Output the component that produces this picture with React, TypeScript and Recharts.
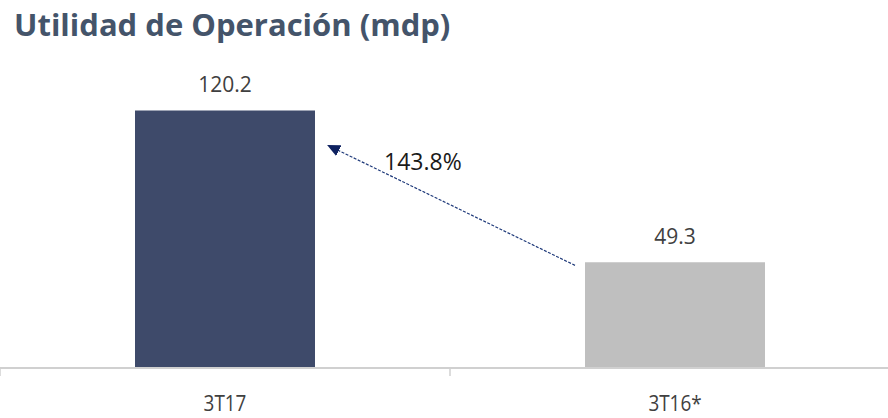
import React from "react";
import { BarChart, Bar, XAxis, YAxis, Cell, LabelList } from "recharts";

const categories = ["3T17", "3T16*"];
const values = [120.2, 49.3];
const barColors = ["#3E4A6A", "#BFBFBF"];
const changeLabel = "143.8%";
const title = "Utilidad de Operación (mdp)";

const data = categories.map((c, i) => ({ name: c, value: values[i] }));

const FONT = "'Open Sans', 'DejaVu Sans', sans-serif";

const Tick = (props: any) => {
  const { x, y, payload } = props;
  const off = payload && typeof payload.offset === "number" ? payload.offset : 225;
  return (
    <g>
      <line x1={x - off} x2={x - off} y1={y} y2={y + 8} stroke="#D0D0D0" strokeWidth={1.5} />
      <text
        x={x}
        y={y + 35}
        textAnchor="middle"
        dominantBaseline="central"
        fill="#404040"
        fontSize={21}
        fontFamily={FONT}
        style={{ transform: "scaleX(0.9)", transformBox: "fill-box", transformOrigin: "center" }}
      >
        {payload.value}
      </text>
    </g>
  );
};

const ArrowLabel = (props: any) => {
  const { x, y, width, height, index } = props;
  if (index !== 1) return null;
  const base = y + height;
  const targetTop = base - height * (values[0] / values[1]);
  const targetRight = x - 1.5 * width;
  const sx = x - 10;
  const sy = y + 3;
  const ex = targetRight + 13;
  const ey = targetTop + 35;
  return (
    <g>
      <defs>
        <marker id="arrowHead" markerWidth="13" markerHeight="12" refX="12" refY="6" orient="auto" markerUnits="userSpaceOnUse">
          <path d="M0,0 L13,6 L0,12 z" fill="#0E2160" />
        </marker>
      </defs>
      <line x1={sx} y1={sy} x2={ex} y2={ey} stroke="#1F3A7A" strokeWidth={1.2} strokeDasharray="3 1.5" markerEnd="url(#arrowHead)" />
      <text x={ex + 56} y={ey + 16} dominantBaseline="central" fill="#1A1A1A" fontSize={23} fontFamily={FONT}>
        {changeLabel}
      </text>
    </g>
  );
};

export default function App() {
  return (
    <div style={{ position: "absolute", left: 0, top: 0, width: 888, height: 418, overflow: "hidden", background: "#fff" }}>
      <div
        style={{
          position: "absolute",
          left: 14,
          top: 3,
          fontFamily: FONT,
          fontWeight: 700,
          fontSize: 31,
          color: "#44546A",
          whiteSpace: "nowrap",
          lineHeight: "42px",
        }}
      >
        {title}
      </div>
      <div style={{ position: "absolute", left: 0, top: 0 }}>
        <BarChart
          width={900}
          height={418}
          data={data}
          margin={{ top: 68, right: 0, bottom: 0, left: 0 }}
          barCategoryGap="30%"
        >
          <XAxis
            dataKey="name"
            height={50}
            tickLine={false}
            tickSize={0}
            tickMargin={0}
            axisLine={{ stroke: "#D0D0D0", strokeWidth: 2 }}
            tick={<Tick />}
            interval={0}
          />
          <YAxis hide domain={[0, 140]} />
          <Bar dataKey="value" isAnimationActive={false}>
            {data.map((d, i) => (
              <Cell key={d.name} fill={barColors[i]} />
            ))}
            <LabelList dataKey="value" position="top" offset={18} fill="#404040" fontSize={21} fontFamily={FONT} />
            <LabelList dataKey="value" content={<ArrowLabel />} />
          </Bar>
        </BarChart>
      </div>
    </div>
  );
}
